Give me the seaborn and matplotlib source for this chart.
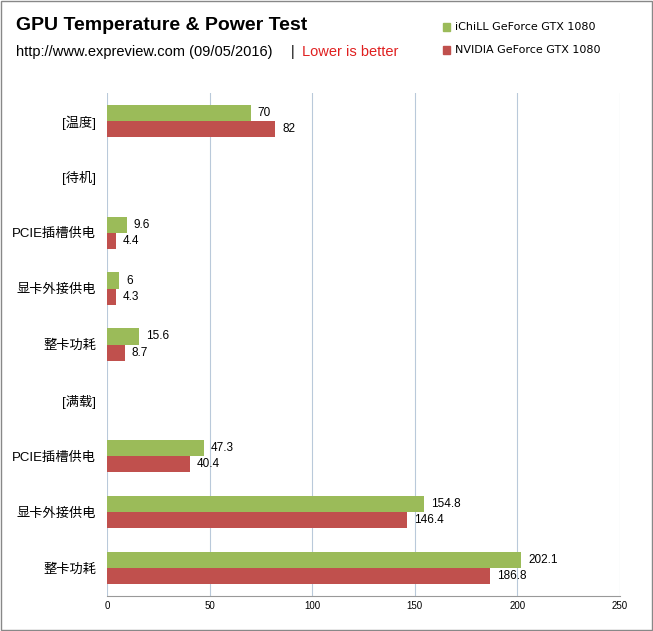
import matplotlib
matplotlib.use("Agg")
import matplotlib.pyplot as plt
from matplotlib import font_manager as fm
import seaborn as sns
import pandas as pd
import numpy as np

categories = ["[温度]", "[待机]", "PCIE插槽供电", "显卡外接供电", "整卡功耗", "[满载]", "PCIE插槽供电 ", "显卡外接供电 ", "整卡功耗 "]
ichill = [70, np.nan, 9.6, 6, 15.6, np.nan, 47.3, 154.8, 202.1]
nvidia = [82, np.nan, 4.4, 4.3, 8.7, np.nan, 40.4, 146.4, 186.8]
series = ["iChiLL GeForce GTX 1080", "NVIDIA GeForce GTX 1080"]
xticks = [0, 50, 100, 150, 200, 250]

cjk = None
for f in fm.findSystemFonts():
    if "NotoSansCJK" in f.replace(" ", "") or "NotoSansSC" in f:
        try:
            fm.fontManager.addfont(f)
            cjk = fm.FontProperties(fname=f).get_name()
            if "Regular" in f:
                break
        except Exception:
            pass
fams = ["Liberation Sans"] + ([cjk] if cjk else []) + ["Noto Sans CJK SC", "DejaVu Sans"]
plt.rcParams["font.family"] = fams

df = pd.DataFrame({"cat": categories * 2, "val": ichill + nvidia,
                   "series": [series[0]] * 9 + [series[1]] * 9})

fig = plt.figure(figsize=(6.53, 6.31), dpi=100)
ax = fig.add_axes([0.164, 0.0555, 0.785, 0.797])
sns.barplot(data=df, y="cat", x="val", hue="series", order=categories,
            palette=["#9BBB59", "#C0504D"], width=0.58, ax=ax, legend=False,
            saturation=1)
for c in ax.containers:
    labels = ["" if np.isnan(v) else f"{v:g}" for v in c.datavalues]
    ax.bar_label(c, labels=labels, padding=5, fontsize=8.5)
ax.set_xlim(0, 250)
ax.set_xticks(xticks)
ax.tick_params(axis="x", labelsize=7, length=0)
ax.set_yticks(range(len(categories)))
ax.set_yticklabels([c.strip() for c in categories], fontsize=9.5, family=fams)
ax.tick_params(axis="y", length=0, pad=8)
ax.set_xlabel(""); ax.set_ylabel("")
ax.grid(axis="x", color="#B9C9DA", lw=0.8)
ax.set_axisbelow(True)
for s in ["top", "right", "left"]:
    ax.spines[s].set_visible(False)
ax.spines["bottom"].set_color("#999999")

fig.text(0.025, 0.953, "GPU Temperature & Power Test", fontsize=14, fontweight="bold")
fig.text(0.025, 0.912, "http://www.expreview.com (09/05/2016)", fontsize=10.5)
fig.text(0.445, 0.912, "|", fontsize=10.5)
fig.text(0.462, 0.912, "Lower is better", fontsize=10.5, color="#E02020")
for i, (s, col) in enumerate(zip(series, ["#9BBB59", "#C0504D"])):
    y = 0.957 - i * 0.037
    fig.patches.append(plt.Rectangle((0.678, y - 0.006), 0.011, 0.013, color=col, transform=fig.transFigure))
    fig.text(0.697, y, s, fontsize=8, va="center", family="DejaVu Sans")
fig.patches.append(plt.Rectangle((0.002, 0.002), 0.996, 0.996, fill=False, ec="#888888", lw=1, transform=fig.transFigure))
fig.savefig("out.png", dpi=100)
